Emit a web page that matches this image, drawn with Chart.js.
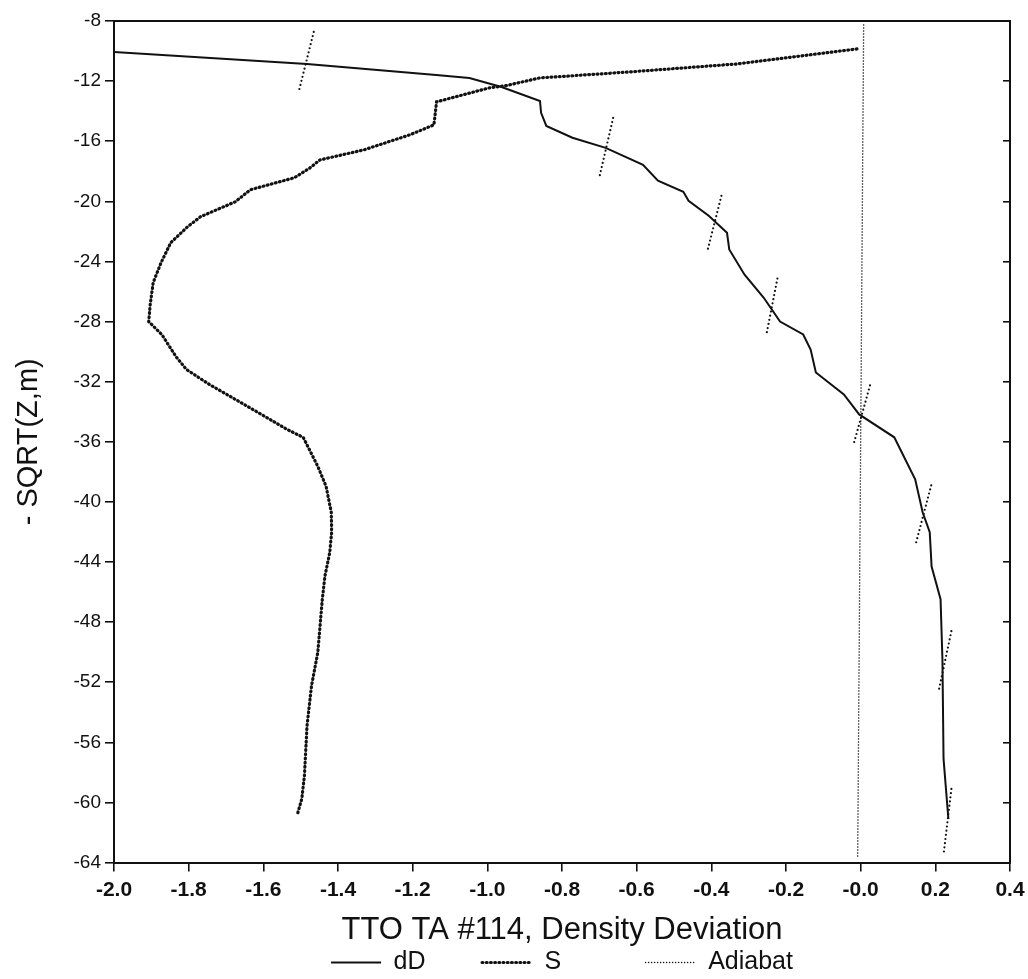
<!DOCTYPE html>
<html lang="en">
<head>
  <meta charset="UTF-8">
  <title>TTO TA #114, Density Deviation</title>
  <script src="https://cdn.jsdelivr.net/npm/chart.js"></script>
  <style>
    html, body {
      margin: 0;
      padding: 0;
      background: #fff;
    }
    #wrap {
      width: 1028px;
      height: 979px;
    }
  </style>
</head>
<body>

  <div id="wrap"><canvas id="grafico" width="1028" height="979"></canvas></div>

  <script>
    // dD profile (density deviation)
    const dDx = [-2.0, -1.483, -1.137, -1.048, -0.962, -0.859, -0.856, -0.842, -0.772, -0.683, -0.583,
                 -0.543, -0.475, -0.461, -0.407, -0.358, -0.352, -0.311, -0.26, -0.238, -0.216, -0.154,
                 -0.134, -0.12, -0.045, -0.004, 0.09, 0.146, 0.166, 0.185, 0.19, 0.214, 0.219, 0.222, 0.235];
    const dDy = [-10.06, -10.86, -11.59, -11.79, -12.39, -13.32, -14.11, -14.98, -15.77, -16.44, -17.57,
                 -18.63, -19.36, -19.96, -20.96, -22.09, -23.2, -24.88, -26.4, -27.2, -28.0, -28.86,
                 -29.86, -31.39, -32.85, -34.18, -35.7, -38.5, -40.69, -42.02, -44.3, -46.47, -50.46, -57.1, -61.1];

    // S profile
    const sX = [-0.01, -0.332, -0.619, -0.86, -0.95, -0.995, -1.136, -1.143, -1.207, -1.33, -1.448, -1.475,
                -1.517, -1.635, -1.675, -1.768, -1.803, -1.848, -1.874, -1.895, -1.903, -1.907, -1.872,
                -1.834, -1.806, -1.744, -1.628, -1.536, -1.493, -1.454, -1.432, -1.418, -1.417, -1.422,
                -1.435, -1.442, -1.454, -1.471, -1.483, -1.49, -1.497, -1.51];
    const sY = [-9.86, -10.86, -11.39, -11.79, -12.3, -12.45, -13.38, -14.91, -15.57, -16.57, -17.24, -17.77,
                -18.43, -19.23, -20.03, -21.02, -21.69, -22.75, -24.08, -25.4, -26.87, -28.0, -28.86,
                -30.33, -31.19, -32.19, -33.85, -35.18, -35.71, -37.64, -38.96, -40.69, -42.0, -43.35,
                -44.94, -46.47, -50.0, -52.25, -54.91, -58.23, -59.76, -60.89];

    // adiabat reference line
    const adiX = [0.008, -0.008];
    const adiY = [-8.27, -63.75];

    // short local adiabats crossing dD
    const segX = [[-1.465, -1.506], [-0.663, -0.699], [-0.373, -0.411], [-0.223, -0.253],
                  [0.025, -0.019], [0.189, 0.148], [0.243, 0.21], [0.243, 0.223]];
    const segY = [[-8.73, -12.78], [-14.45, -18.3], [-19.63, -23.35], [-25.14, -28.93],
                  [-32.25, -36.17], [-38.9, -42.75], [-48.6, -52.45], [-59.1, -63.27]];

    const xTickLabels = ['-2.0', '-1.8', '-1.6', '-1.4', '-1.2', '-1.0', '-0.8', '-0.6', '-0.4', '-0.2', '-0.0', '0.2', '0.4'];

    const ink = '#111';
    const fam = '"Liberation Sans", Arial, Helvetica, sans-serif';

    // extra space after each legend entry (the legend padding is also used vertically)
    const legendGaps = { dD: 8, S: 12 };

    function pts(xs, ys) {
      return xs.map((x, i) => ({ x: x, y: ys[i] }));
    }

    const datasets = [
      {
        label: 'dD',
        data: pts(dDx, dDy),
        borderColor: ink,
        borderWidth: 2,
        showLine: true,
        pointRadius: 0
      },
      {
        label: 'S',
        data: pts(sX, sY),
        borderColor: ink,
        borderWidth: 3.2,
        borderDash: [0.8, 3.4],
        borderCapStyle: 'round',
        showLine: true,
        pointRadius: 0
      },
      {
        label: 'Adiabat',
        data: pts(adiX, adiY),
        borderColor: ink,
        borderWidth: 1.6,
        borderDash: [0, 3],
        borderCapStyle: 'round',
        showLine: true,
        pointRadius: 0
      }
    ];

    segX.forEach((xs, k) => {
      datasets.push({
        label: '',
        data: pts(xs, segY[k]),
        borderColor: ink,
        borderWidth: 2.2,
        borderDash: [0, 4.2],
        borderCapStyle: 'round',
        showLine: true,
        pointRadius: 0
      });
    });

    const gridBase = { drawOnChartArea: false, drawTicks: true, tickLength: 9, color: ink, lineWidth: 1.6 };
    const borderBase = { display: true, color: ink, width: 2 };

    new Chart(document.getElementById('grafico').getContext('2d'), {
      type: 'scatter',
      data: { datasets },
      options: {
        responsive: false,
        animation: false,
        layout: { padding: { left: 0, right: 0, top: 21, bottom: 2 } },
        plugins: {
          legend: {
            position: 'bottom',
            fullSize: false,
            maxHeight: 28,
            labels: {
              usePointStyle: true,
              pointStyleWidth: 50,
              color: ink,
              padding: 1,
              font: { family: fam, size: 25 },
              generateLabels: chart => chart.data.datasets
                .map((ds, i) => ({
                  text: ds.label + ' '.repeat(legendGaps[ds.label] || 0),
                  datasetIndex: i,
                  fillStyle: ink,
                  strokeStyle: ink,
                  fontColor: ink,
                  lineWidth: ds.borderWidth,
                  lineDash: ds.borderDash || [],
                  lineCap: ds.borderCapStyle || 'butt',
                  pointStyle: 'line',
                  hidden: false
                }))
                .filter(item => item.text !== '')
            }
          },
          tooltip: { enabled: false }
        },
        scales: {
          x: {
            type: 'linear',
            position: 'bottom',
            min: -2.0,
            max: 0.4,
            ticks: {
              stepSize: 0.2,
              autoSkip: false,
              maxRotation: 0,
              padding: 6,
              color: ink,
              font: { family: fam, size: 21, weight: 'bold' },
              callback: (v, i) => xTickLabels[i]
            },
            grid: gridBase,
            border: borderBase,
            title: {
              display: true,
              text: 'TTO TA #114, Density Deviation',
              color: ink,
              font: { family: fam, size: 31 },
              padding: { top: 3, bottom: 0 }
            },
            // the last tick label may hang over the right frame
            afterFit: s => { s.paddingRight = 8; }
          },
          x2: {
            type: 'linear',
            position: 'top',
            min: -2.0,
            max: 0.4,
            ticks: { display: false, stepSize: 0.2 },
            grid: { drawOnChartArea: false, drawTicks: false },
            border: borderBase,
            afterFit: s => { s.height = 0; }
          },
          y: {
            type: 'linear',
            position: 'left',
            min: -64,
            max: -8,
            ticks: {
              stepSize: 4,
              padding: 4,
              color: ink,
              font: { family: fam, size: 19 }
            },
            grid: gridBase,
            border: borderBase,
            title: {
              display: true,
              text: '- SQRT(Z,m)',
              color: ink,
              font: { family: fam, size: 29 },
              padding: { top: 12, bottom: 0 }
            },
            afterFit: s => { s.width = 114; }
          },
          y2: {
            type: 'linear',
            position: 'right',
            min: -64,
            max: -8,
            ticks: { display: false, stepSize: 4 },
            grid: { drawOnChartArea: false, drawTicks: true, tickLength: -7, color: ink, lineWidth: 1.6 },
            border: borderBase,
            afterFit: s => { s.width = 18; }
          }
        }
      }
    });
  </script>

</body>
</html>
